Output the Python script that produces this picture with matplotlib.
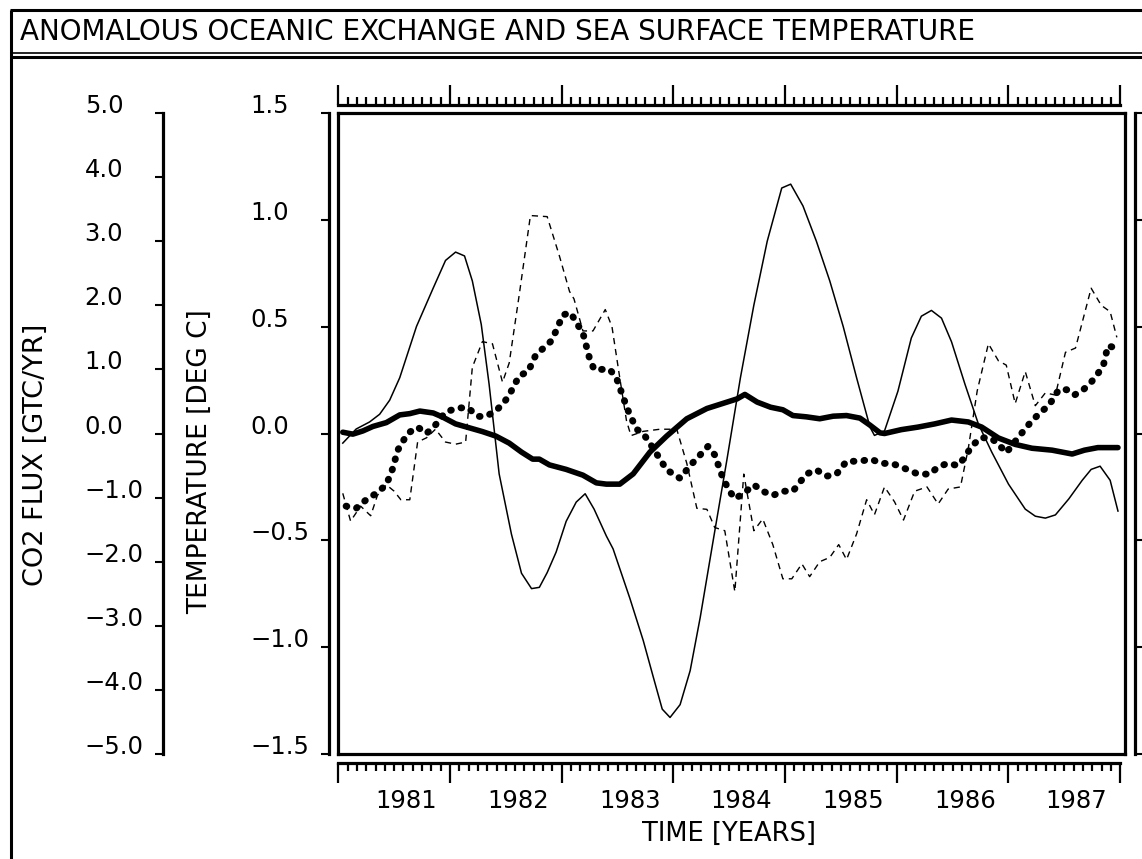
import matplotlib
matplotlib.use("Agg")
import matplotlib.pyplot as plt
import matplotlib.transforms as mtransforms
from matplotlib.lines import Line2D

# ---------------- data ----------------
title = "ANOMALOUS OCEANIC EXCHANGE AND SEA SURFACE TEMPERATURE"
co2_ticks = [-5, -4, -3, -2, -1, 0, 1, 2, 3, 4, 5]
co2_labels = ["\u22125.0", "\u22124.0", "\u22123.0", "\u22122.0", "\u22121.0", "0.0",
              "1.0", "2.0", "3.0", "4.0", "5.0"]
temp_ticks = [-1.5, -1.0, -0.5, 0.0, 0.5, 1.0, 1.5]
temp_labels = ["\u22121.5", "\u22121.0", "\u22120.5", "0.0", "0.5", "1.0", "1.5"]
years = [1981, 1982, 1983, 1984, 1985, 1986, 1987]

# thin solid: CO2 flux anomaly [GtC/yr]
flux_t = [1981.04, 1981.16, 1981.28, 1981.37, 1981.46, 1981.55, 1981.70, 1981.85, 1981.96,
          1982.05, 1982.13, 1982.20, 1982.28, 1982.35, 1982.44, 1982.55, 1982.64, 1982.73,
          1982.80, 1982.87, 1982.95, 1983.04, 1983.13, 1983.21, 1983.29, 1983.40, 1983.46,
          1983.61, 1983.73, 1983.82, 1983.90, 1983.97, 1984.06, 1984.15, 1984.24, 1984.36,
          1984.48, 1984.60, 1984.72, 1984.84, 1984.97, 1985.05, 1985.16, 1985.28, 1985.40,
          1985.52, 1985.64, 1985.76, 1985.80, 1985.89, 1986.01, 1986.13, 1986.22, 1986.31,
          1986.40, 1986.49, 1986.61, 1986.73, 1986.85, 1987.00, 1987.15, 1987.24, 1987.33,
          1987.42, 1987.54, 1987.66, 1987.74, 1987.82, 1987.91, 1987.98]
flux_raw = [-0.15, 0.07, 0.18, 0.30, 0.52, 0.87, 1.67, 2.27, 2.70,
            2.83, 2.77, 2.38, 1.70, 0.77, -0.63, -1.57, -2.18, -2.42,
            -2.40, -2.17, -1.85, -1.37, -1.07, -0.94, -1.18, -1.60, -1.80,
            -2.57, -3.23, -3.80, -4.30, -4.43, -4.23, -3.70, -2.87, -1.63,
            -0.40, 0.87, 2.00, 3.00, 3.83, 3.89, 3.55, 3.00, 2.38,
            1.67, 0.87, 0.10, -0.03, 0.04, 0.66, 1.49, 1.83, 1.92,
            1.80, 1.43, 0.77, 0.15, -0.29, -0.79, -1.18, -1.29, -1.32,
            -1.27, -1.02, -0.73, -0.56, -0.51, -0.73, -1.21]

# thick solid: smoothed CO2 flux anomaly [GtC/yr]
fluxs_t = [1981.04, 1981.13, 1981.22, 1981.31, 1981.43, 1981.55, 1981.64, 1981.73, 1981.85,
           1981.93, 1982.05, 1982.17, 1982.29, 1982.41, 1982.53, 1982.64, 1982.74, 1982.80,
           1982.89, 1983.04, 1983.19, 1983.31, 1983.40, 1983.52, 1983.64, 1983.79, 1983.94,
           1984.12, 1984.30, 1984.48, 1984.57, 1984.64, 1984.75, 1984.87, 1984.98, 1985.07,
           1985.19, 1985.31, 1985.43, 1985.55, 1985.67, 1985.76, 1985.85, 1985.89, 1986.04,
           1986.19, 1986.34, 1986.49, 1986.64, 1986.76, 1986.91, 1987.06, 1987.21, 1987.39,
           1987.57, 1987.68, 1987.80, 1987.98]
flux_smooth = [0.02, -0.01, 0.04, 0.11, 0.17, 0.29, 0.31, 0.35, 0.32,
               0.26, 0.15, 0.09, 0.03, -0.04, -0.15, -0.29, -0.40, -0.40,
               -0.49, -0.56, -0.65, -0.77, -0.79, -0.79, -0.63, -0.29, -0.04,
               0.23, 0.39, 0.49, 0.54, 0.61, 0.49, 0.41, 0.37, 0.28,
               0.26, 0.23, 0.27, 0.28, 0.24, 0.13, 0.01, 0.00, 0.06,
               0.10, 0.15, 0.21, 0.18, 0.10, -0.07, -0.17, -0.23, -0.26,
               -0.32, -0.26, -0.22, -0.22]

# thin dashed: sea surface temperature anomaly [deg C]
sst_t = [1981.04, 1981.11, 1981.20, 1981.29, 1981.35, 1981.43, 1981.50, 1981.56, 1981.64,
         1981.71, 1981.79, 1981.87, 1981.96, 1982.05, 1982.14, 1982.20, 1982.29, 1982.38,
         1982.47, 1982.53, 1982.62, 1982.72, 1982.87, 1982.98, 1983.07, 1983.11, 1983.19,
         1983.28, 1983.39, 1983.45, 1983.52, 1983.58, 1983.62, 1983.73, 1983.88, 1984.03,
         1984.12, 1984.21, 1984.30, 1984.37, 1984.46, 1984.55, 1984.63, 1984.72, 1984.80,
         1984.89, 1984.98, 1985.06, 1985.15, 1985.22, 1985.31, 1985.40, 1985.48, 1985.55,
         1985.64, 1985.73, 1985.80, 1985.89, 1985.98, 1986.06, 1986.16, 1986.27, 1986.37,
         1986.46, 1986.57, 1986.64, 1986.72, 1986.82, 1986.91, 1986.98, 1987.06, 1987.15,
         1987.24, 1987.33, 1987.42, 1987.51, 1987.60, 1987.74, 1987.83, 1987.91, 1987.97]
sst_raw = [-0.28, -0.41, -0.34, -0.385, -0.29, -0.24, -0.27, -0.31, -0.31,
           -0.04, -0.02, 0.02, -0.04, -0.05, -0.04, 0.31, 0.43, 0.42,
           0.24, 0.33, 0.65, 1.02, 1.015, 0.83, 0.665, 0.63, 0.48,
           0.48, 0.58, 0.50, 0.26, 0.06, -0.01, 0.01, 0.02, 0.02,
           -0.14, -0.35, -0.355, -0.44, -0.455, -0.74, -0.19, -0.455, -0.40,
           -0.52, -0.68, -0.68, -0.61, -0.67, -0.60, -0.58, -0.52, -0.59,
           -0.47, -0.31, -0.38, -0.25, -0.32, -0.405, -0.27, -0.25, -0.33,
           -0.26, -0.25, -0.07, 0.20, 0.42, 0.34, 0.32, 0.14, 0.29,
           0.13, 0.19, 0.18, 0.38, 0.40, 0.68, 0.60, 0.57, 0.45]

# thick dotted: smoothed sea surface temperature anomaly [deg C]
ssts_t = [1981.07, 1981.16, 1981.25, 1981.34, 1981.43, 1981.49, 1981.53, 1981.62, 1981.71,
          1981.79, 1981.87, 1981.96, 1982.07, 1982.16, 1982.25, 1982.32, 1982.41, 1982.49,
          1982.53, 1982.58, 1982.62, 1982.70, 1982.77, 1982.85, 1982.90, 1982.95, 1983.01,
          1983.08, 1983.13, 1983.19, 1983.25, 1983.29, 1983.37, 1983.43, 1983.49, 1983.55,
          1983.60, 1983.67, 1983.73, 1983.82, 1983.94, 1984.06, 1984.15, 1984.24, 1984.31,
          1984.37, 1984.43, 1984.49, 1984.55, 1984.63, 1984.72, 1984.80, 1984.89, 1984.98,
          1985.07, 1985.13, 1985.19, 1985.28, 1985.37, 1985.46, 1985.55, 1985.67, 1985.77,
          1985.86, 1985.95, 1986.01, 1986.10, 1986.19, 1986.30, 1986.36, 1986.45, 1986.55,
          1986.61, 1986.67, 1986.75, 1986.84, 1986.91, 1986.98, 1987.04, 1987.10, 1987.21,
          1987.30, 1987.36, 1987.45, 1987.52, 1987.59, 1987.67, 1987.74, 1987.80, 1987.85,
          1987.89, 1987.97]
sst_smooth = [-0.34, -0.35, -0.31, -0.28, -0.24, -0.16, -0.08, 0.00, 0.03,
              0.00, 0.04, 0.10, 0.12, 0.12, 0.08, 0.08, 0.105, 0.15,
              0.18, 0.23, 0.27, 0.29, 0.37, 0.405, 0.43, 0.48, 0.555,
              0.565, 0.52, 0.47, 0.35, 0.30, 0.30, 0.30, 0.26, 0.17,
              0.10, 0.02, 0.00, -0.07, -0.17, -0.21, -0.15, -0.10, -0.06,
              -0.10, -0.19, -0.26, -0.305, -0.28, -0.24, -0.27, -0.29, -0.27,
              -0.27, -0.23, -0.19, -0.17, -0.20, -0.19, -0.13, -0.13, -0.12,
              -0.14, -0.14, -0.15, -0.17, -0.19, -0.19, -0.16, -0.14, -0.15,
              -0.11, -0.06, -0.02, -0.02, -0.05, -0.09, -0.05, -0.01, 0.06,
              0.105, 0.13, 0.205, 0.205, 0.18, 0.205, 0.24, 0.28, 0.32,
              0.41, 0.40]

# ---------------- layout helpers (pixel geometry of the reference) ----------------
W, H = 1142, 859
plt.rcParams["font.family"] = ["DejaVu Sans"]
fig = plt.figure(figsize=(W / 100, H / 100), dpi=100)
fig.patch.set_facecolor("white")


def rect(x0, y0, x1, y1):
    return [x0 / W, 1 - y1 / H, (x1 - x0) / W, (y1 - y0) / H]


def fline(x0, y0, x1, y1, lw):
    fig.add_artist(Line2D([x0 / W, x1 / W], [1 - y0 / H, 1 - y1 / H],
                          transform=fig.transFigure, color="k", lw=lw,
                          solid_capstyle="butt"))


X_1981, PX_PER_YR = 338.3, 111.7
TOP, BOT = 113, 754


def px2yr(px):
    return 1981 + (px - X_1981) / PX_PER_YR


# outer frame and title box
fline(11, 10, 11, 859, 2.2)
fline(10, 10, 1142, 10, 2.2)
fline(10, 53, 1142, 53, 1.2)
fline(10, 57, 1142, 57, 2.2)
fig.text(20 / W, 1 - 32 / H, title, ha="left", va="center", fontsize=20)

# ---------------- main plot box ----------------
ax = fig.add_axes(rect(338, TOP, 1125, BOT))
ax.set_xlim(px2yr(338), px2yr(1125))
ax.set_ylim(-1.5, 1.5)
ax.set_xticks([])
ax.set_yticks([])
for s in ax.spines.values():
    s.set_linewidth(2.3)
axf = ax.twinx()
axf.set_ylim(-5, 5)
axf.axis("off")

ax.plot(sst_t, sst_raw, color="k", lw=1.0, ls=(0, (4.5, 3.5)))
ax.plot(ssts_t, sst_smooth, color="k", lw=5.0, ls=(0, (0.1, 1.45)),
        dash_capstyle="round")
axf.plot(flux_t, flux_raw, color="k", lw=1.1)
axf.plot(fluxs_t, flux_smooth, color="k", lw=4.0, solid_capstyle="round",
         solid_joinstyle="round")


def side_axis(x_px, lim, ticks, labels, direction):
    a = fig.add_axes(rect(x_px, TOP, x_px + 40, BOT))
    a.patch.set_visible(False)
    for k in ("top", "right", "bottom"):
        a.spines[k].set_visible(False)
    a.spines["left"].set_linewidth(2.3)
    a.set_ylim(*lim)
    a.set_xticks([])
    if labels is None:
        a.set_yticks(ticks)
        a.set_yticklabels([])
    else:
        a.set_yticks(ticks, labels, ha="left", va="baseline", fontsize=17.5)
    a.tick_params(axis="y", direction=direction, length=6, width=1.5, pad=50.4)
    return a


side_axis(163, (-5, 5), co2_ticks, co2_labels, "out")
side_axis(329, (-1.5, 1.5), temp_ticks, temp_labels, "out")
side_axis(1135, (-1.5, 1.5), temp_ticks, None, "in")

fig.text(36 / W, 1 - 455 / H, "CO2 FLUX [GTC/YR]", rotation=90, ha="center",
         va="center", fontsize=19.5)
fig.text(200 / W, 1 - 462 / H, "TEMPERATURE [DEG C]", rotation=90, ha="center",
         va="center", fontsize=19)

# ---------------- time rulers ----------------
major = years + [1988]
minor = [y + m / 12 for y in years for m in range(1, 12)]
x_end = X_1981 + 7 * PX_PER_YR

rt = fig.add_axes(rect(X_1981, 85, x_end, 105))
rb = fig.add_axes(rect(X_1981, 763, x_end, 783))
for r, side in ((rt, "bottom"), (rb, "top")):
    r.patch.set_visible(False)
    for k in ("top", "right", "bottom", "left"):
        r.spines[k].set_visible(k == side)
    r.spines[side].set_linewidth(2.3)
    r.set_xlim(1981, 1988)
    r.set_yticks([])
    r.xaxis.set_ticks_position(side)
    r.set_xticks(major)
    r.set_xticks(minor, minor=True)
    r.set_xticklabels([])
    r.tick_params(axis="x", which="major", direction="in", length=14.4, width=1.6)
    r.tick_params(axis="x", which="minor", direction="in", length=6.0, width=1.6)

tr = mtransforms.blended_transform_factory(rb.transData, fig.transFigure)
for y in years:
    rb.text(y + 0.61, 1 - 801 / H, str(y), transform=tr, ha="center", va="center",
            fontsize=17.5)
fig.text((X_1981 + x_end) / 2 / W, 1 - 834 / H, "TIME [YEARS]", ha="center",
         va="center", fontsize=18.5)

fig.savefig("out.png", dpi=100, facecolor="white")
